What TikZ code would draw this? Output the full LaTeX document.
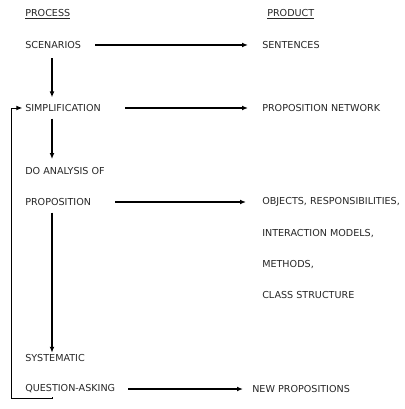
\documentclass[tikz,border=0pt]{standalone}
\usepackage{fontspec}
\setmainfont{DejaVu Sans}
\usetikzlibrary{arrows.meta}
\begin{document}
\begin{tikzpicture}[x=0.75pt,y=-0.75pt,
  lbl/.style={anchor=west,inner sep=0pt,font=\fontsize{7.2}{8.5}\selectfont,text=black!85},
  flow/.style={line width=0.9pt,-{Latex[length=4.5pt,width=3.6pt]}},
  loopline/.style={line width=0.7pt}]
\useasboundingbox (0,0) rectangle (404,409);
% column headings
\node[lbl] (hproc) at (25,14) {\underline{PROCESS}};
\node[lbl] (hprod) at (267,14) {\underline{PRODUCT}};
% process column
\node[lbl] (scen) at (25,45) {SCENARIOS};
\node[lbl] (simp) at (25,108) {SIMPLIFICATION};
\node[lbl] (doan) at (25,171) {DO ANALYSIS OF};
\node[lbl] (prop) at (25,202) {PROPOSITION};
\node[lbl] (syst) at (25,358) {SYSTEMATIC};
\node[lbl] (qask) at (25,389) {QUESTION-ASKING};
% product column
\node[lbl] (sent) at (262,45) {SENTENCES};
\node[lbl] (pnet) at (262,108) {PROPOSITION NETWORK};
\node[lbl] (objs) at (262,202) {OBJECTS, RESPONSIBILITIES,};
\node[lbl] (inter) at (262,233) {INTERACTION MODELS,};
\node[lbl] (meth) at (262,264) {METHODS,};
\node[lbl] (cls) at (262,295) {CLASS STRUCTURE};
\node[lbl] (newp) at (252,389) {NEW PROPOSITIONS};
% x positions of the arrow ends, the vertical flow and the feedback loop
\coordinate (s1) at (95,0);   \coordinate (e1) at (248,0);
\coordinate (s2) at (125,0);  \coordinate (e2) at (248,0);
\coordinate (s3) at (115,0);  \coordinate (e3) at (246,0);
\coordinate (s4) at (128,0);  \coordinate (e4) at (243,0);
\coordinate (spine) at (52,0);
\coordinate (back) at (11,0);
\coordinate (loopbot) at (0,398);
% process to product
\draw[flow] (scen.east -| s1) -- (sent.west -| e1);
\draw[flow] (simp.east -| s2) -- (pnet.west -| e2);
\draw[flow] (prop.east -| s3) -- (objs.west -| e3);
\draw[flow] (qask.east -| s4) -- (newp.west -| e4);
% process steps downwards
\draw[flow] ([yshift=-7]scen.south -| spine) -- ([yshift=5]simp.north -| spine);
\draw[flow] ([yshift=-5]simp.south -| spine) -- ([yshift=6]doan.north -| spine);
\draw[flow] ([yshift=-5]prop.south -| spine) -- ([yshift=1]syst.north -| spine);
% feedback loop back to simplification
\draw[loopline,-{Latex[length=4.5pt,width=3.6pt]}]
  ([yshift=-3]qask.south -| spine) -- (loopbot -| spine) -- (loopbot -| back)
  -- (simp.west -| back) -- ([xshift=-2]simp.west);
\end{tikzpicture}
\end{document}
